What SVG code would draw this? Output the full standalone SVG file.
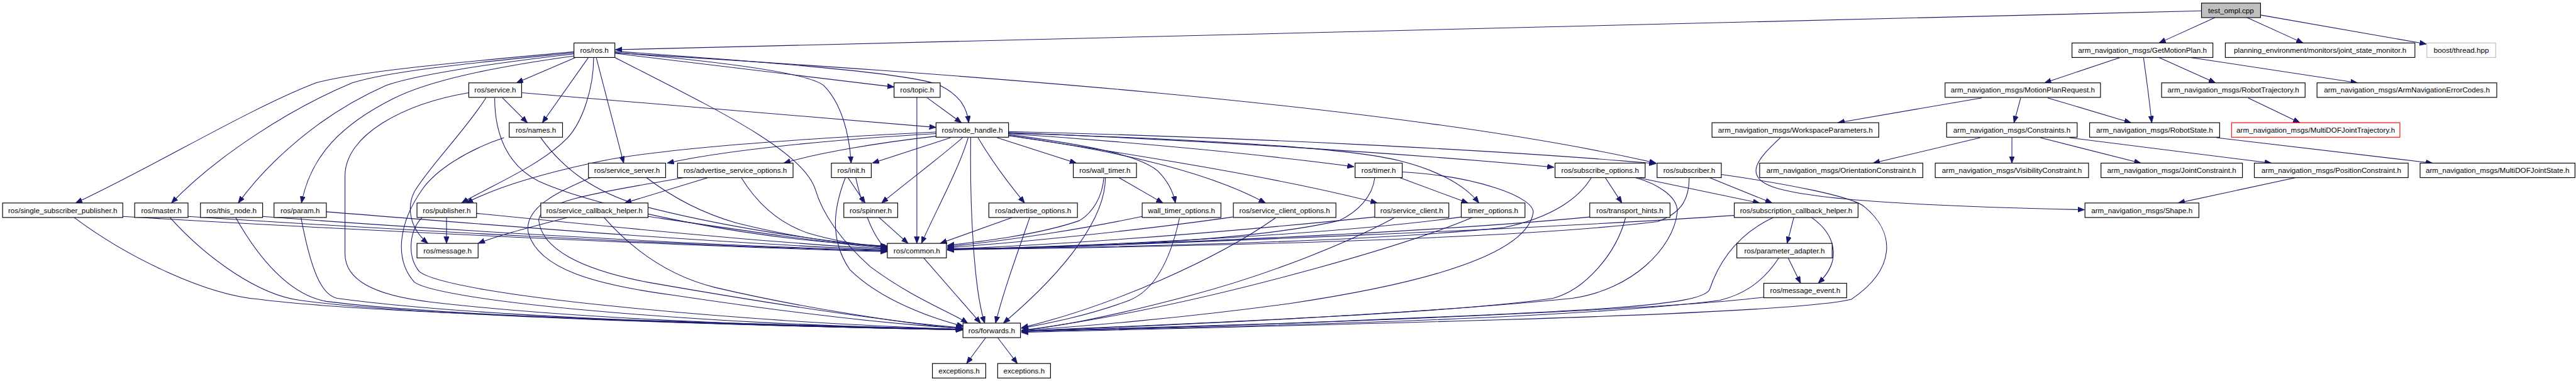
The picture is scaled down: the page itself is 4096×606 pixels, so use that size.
<svg xmlns="http://www.w3.org/2000/svg" width="4096" height="606" viewBox="0 0 4096 606">
<style>
.node rect{fill:#ffffff;stroke:#000000;stroke-width:1.4}
.node text{font-family:"Liberation Sans",Arial,sans-serif;font-size:14.2px;fill:#000000;text-anchor:middle}
#edges path{fill:none;stroke:#191970;stroke-width:1.3;marker-end:url(#arr)}
</style>
<defs>
<marker id="arr" markerUnits="userSpaceOnUse" viewBox="0 0 14 11" markerWidth="14" markerHeight="11" refX="13" refY="5" orient="auto">
<path d="M0,0 L13,5 L0,10 z" fill="#191970" stroke="#191970" stroke-width="1"/>
</marker>
</defs>
<rect x="0" y="0" width="4096" height="606" fill="#ffffff"/>
<g transform="scale(0.82365)">
<g id="edges">
<path d="M4250,21 L1188,96"/>
<path d="M4276,34 L4168,83"/>
<path d="M4338,34 L4446,83"/>
<path d="M4364,29 L4684,85"/>
<path d="M4093,111 L3947,160"/>
<path d="M4138,111 C4145,160 4150,200 4154,237"/>
<path d="M4168,111 L4277,160"/>
<path d="M4229,111 L4551,160"/>
<path d="M3826,189 L3548,237"/>
<path d="M3901,189 L3888,237"/>
<path d="M3953,189 L4114,237"/>
<path d="M4340,189 L4440,237"/>
<path d="M3823,266 L3616,315"/>
<path d="M3884,266 L3884,315"/>
<path d="M3939,266 L4133,315"/>
<path d="M3995,266 L4385,315"/>
<path d="M4279,266 L4696,315"/>
<path d="M4432,343 L4205,392"/>
<path d="M3437,266 C3395,305 3355,345 3440,366 C3520,386 3700,398 4024,405"/>
<path d="M1111,111 L997,160"/>
<path d="M1136,111 L1047,237"/>
<path d="M1146,111 C1146,170 1125,235 1095,267 C1045,318 955,355 891,392"/>
<path d="M1151,111 L1204,315"/>
<path d="M1187,111 C1380,210 1550,290 1574,366 C1590,420 1630,470 1680,515 C1760,575 1840,605 1868,624"/>
<path d="M1187,103 L1726,168"/>
<path d="M1187,99 C1450,118 1760,140 1815,165 C1855,185 1867,210 1870,237"/>
<path d="M1187,101 C1380,118 1560,140 1590,165 C1625,200 1640,260 1643,315"/>
<path d="M1187,102 C1800,140 2700,200 3197,315"/>
<path d="M1108,100 C950,115 700,135 610,160 C480,210 300,320 146,392"/>
<path d="M1108,102 C950,118 760,135 680,160 C560,210 420,300 331,392"/>
<path d="M1108,104 C950,122 800,145 745,165 C620,220 520,310 460,392"/>
<path d="M1108,108 C950,130 830,155 760,190 C660,240 600,300 582,392"/>
<path d="M970,189 L1018,237"/>
<path d="M1007,179 L1807,246"/>
<path d="M938,189 C900,250 830,320 800,370 C785,400 790,440 826,470"/>
<path d="M955,189 C955,260 980,320 1040,350 C1150,400 1450,465 1713,475"/>
<path d="M905,179 C780,200 666,260 666,340 L666,490 C666,540 720,570 830,583 C1100,615 1500,630 1858,636"/>
<path d="M1790,189 L1856,237"/>
<path d="M1770,188 L1770,470"/>
<path d="M1044,266 C1090,330 1150,370 1230,395 C1400,440 1600,468 1713,476"/>
<path d="M973,266 C900,290 840,330 815,366 C770,430 760,500 800,545 C850,580 1300,625 1858,636"/>
<path d="M1807,258 C1600,270 1400,290 1288,315"/>
<path d="M1807,263 C1700,275 1580,295 1513,315"/>
<path d="M1807,255 C1500,270 1250,290 1142,315 C1050,335 960,360 900,392"/>
<path d="M1835,266 L1684,315"/>
<path d="M1858,266 C1820,300 1740,360 1702,392"/>
<path d="M1869,266 C1850,330 1800,420 1779,470"/>
<path d="M1874,266 C1872,400 1880,560 1901,624"/>
<path d="M1888,266 C1920,320 1960,370 1978,392"/>
<path d="M1925,266 L2078,315"/>
<path d="M1947,254 C2400,265 2900,290 3197,316"/>
<path d="M1947,256 C2300,270 2700,295 3000,323"/>
<path d="M1947,258 C2200,275 2450,300 2614,322"/>
<path d="M1947,257 C2300,268 2600,285 2700,310 C2780,330 2830,360 2855,392"/>
<path d="M1947,262 C2200,300 2480,345 2659,392"/>
<path d="M1948,262 C2150,290 2330,330 2443,392"/>
<path d="M1948,260 C2100,280 2200,300 2235,330 C2255,350 2265,370 2269,392"/>
<path d="M2160,343 L2245,392"/>
<path d="M2131,343 C2128,380 2110,410 2084,426 C2000,455 1880,468 1829,474"/>
<path d="M2134,343 C2134,420 2060,520 1937,624"/>
<path d="M2702,343 L2834,392"/>
<path d="M2654,343 C2650,380 2620,410 2585,426 C2400,470 2000,480 1829,480"/>
<path d="M2707,332 C2850,340 2960,380 2960,410 C2950,480 2800,540 2490,586 C2300,612 2100,630 1972,638"/>
<path d="M3072,343 C3050,380 3000,420 2900,440 C2600,470 2100,478 1829,481"/>
<path d="M3099,343 L3131,392"/>
<path d="M3157,343 C3200,355 3240,380 3238,410 C3230,480 3150,560 3035,576 C2700,610 2200,630 1972,640"/>
<path d="M3162,343 L3397,392"/>
<path d="M3300,343 L3421,392"/>
<path d="M3261,343 C3261,380 3250,410 3200,428 C2900,465 2200,478 1829,482"/>
<path d="M3323,337 C3450,355 3580,380 3600,400 C3660,450 3660,520 3574,578 C3450,610 2500,628 1972,642"/>
<path d="M3348,416 C3000,440 2300,470 1829,483"/>
<path d="M3423,420 C3360,450 3320,500 3300,560 C3280,590 3100,600 2490,624 C2200,632 2050,637 1972,640"/>
<path d="M3463,420 L3450,470"/>
<path d="M3497,420 C3540,450 3560,500 3510,547"/>
<path d="M3452,498 L3476,547"/>
<path d="M3434,498 C3400,550 3360,570 3320,580 C3000,620 2300,632 1972,640"/>
<path d="M3405,574 C3200,600 2400,630 1972,640"/>
<path d="M2821,419 C2600,450 2200,472 1829,482"/>
<path d="M2842,420 C2700,480 2400,560 2200,600 C2100,620 2020,632 1972,638"/>
<path d="M2654,419 C2400,445 2100,470 1829,481"/>
<path d="M2691,421 C2600,470 2450,530 2300,570 C2150,610 2050,630 1972,638"/>
<path d="M3069,419 C2800,445 2300,470 1829,482"/>
<path d="M3138,421 C3120,490 3060,560 2998,576 C2800,605 2300,625 1972,639"/>
<path d="M2380,419 C2200,445 1950,470 1829,478"/>
<path d="M2462,421 C2350,500 2150,590 1972,633"/>
<path d="M2205,418 C2100,440 1950,465 1829,476"/>
<path d="M2277,421 C2260,500 2230,560 2180,580 C2100,610 2020,625 1972,634"/>
<path d="M1954,420 L1815,470"/>
<path d="M1988,420 C1960,500 1935,570 1922,624"/>
<path d="M1697,420 L1753,470"/>
<path d="M1783,498 L1893,624"/>
<path d="M1903,652 L1866,702"/>
<path d="M1926,652 L1964,702"/>
<path d="M1248,343 C1290,375 1350,410 1420,430 C1530,458 1640,472 1713,478"/>
<path d="M1140,343 C1080,370 1010,400 1020,450 C1040,520 1150,550 1300,570 C1500,600 1700,625 1858,634"/>
<path d="M1320,343 C1200,365 1040,385 1040,425 C1045,480 1120,520 1250,545 C1450,580 1700,620 1858,633"/>
<path d="M1431,343 C1460,390 1500,430 1560,450 C1620,468 1670,474 1713,477"/>
<path d="M1367,343 L1206,392"/>
<path d="M1652,343 C1665,400 1685,460 1713,482"/>
<path d="M1632,343 C1610,400 1600,460 1640,520 C1700,580 1800,615 1860,630"/>
<path d="M1637,343 L1670,392"/>
<path d="M1095,420 C1020,440 960,455 923,470"/>
<path d="M1251,418 C1400,440 1600,470 1713,480"/>
<path d="M1166,420 C1210,470 1280,530 1380,555 C1550,595 1750,625 1858,635"/>
<path d="M862,420 L862,470"/>
<path d="M920,412 C1200,440 1500,470 1713,481"/>
<path d="M815,420 C790,445 785,495 810,525 C870,570 1400,620 1858,636"/>
<path d="M237,418 C600,440 1300,475 1713,486"/>
<path d="M143,420 C250,500 400,570 500,578 C700,605 1400,625 1858,636"/>
<path d="M363,418 C700,440 1300,474 1713,485"/>
<path d="M328,420 C400,500 500,570 580,580 C800,610 1400,628 1858,637"/>
<path d="M507,418 C800,440 1300,472 1713,484"/>
<path d="M455,420 C500,500 560,570 630,582 C850,610 1400,628 1858,637"/>
<path d="M630,409 C900,430 1300,465 1713,483"/>
<path d="M581,420 C600,520 620,570 651,576 C900,610 1400,628 1858,637"/>
</g>
<g id="n_test" class="node"><rect x="4250" y="6" width="114" height="28" style="fill:#bfbfbf"/><text x="4307" y="25">test_ompl.cpp</text></g>
<g id="n_ros" class="node"><rect x="1108" y="83" width="79" height="28"/><text x="1147.5" y="102">ros/ros.h</text></g>
<g id="n_gmp" class="node"><rect x="4000" y="83" width="272" height="28"/><text x="4136" y="102">arm_navigation_msgs/GetMotionPlan.h</text></g>
<g id="n_pe" class="node"><rect x="4296" y="83" width="366" height="28"/><text x="4479" y="102">planning_environment/monitors/joint_state_monitor.h</text></g>
<g id="n_boost" class="node"><rect x="4685" y="83" width="133" height="28" style="stroke:#bfbfbf"/><text x="4751.5" y="102">boost/thread.hpp</text></g>
<g id="n_service" class="node"><rect x="905" y="160" width="102" height="28"/><text x="956" y="179">ros/service.h</text></g>
<g id="n_topic" class="node"><rect x="1726" y="160" width="89" height="28"/><text x="1770.5" y="179">ros/topic.h</text></g>
<g id="n_mpr" class="node"><rect x="3755" y="160" width="300" height="28"/><text x="3905" y="179">arm_navigation_msgs/MotionPlanRequest.h</text></g>
<g id="n_rtraj" class="node"><rect x="4173" y="160" width="277" height="28"/><text x="4311.5" y="179">arm_navigation_msgs/RobotTrajectory.h</text></g>
<g id="n_anec" class="node"><rect x="4473" y="160" width="347" height="28"/><text x="4646.5" y="179">arm_navigation_msgs/ArmNavigationErrorCodes.h</text></g>
<g id="n_names" class="node"><rect x="983" y="237" width="103" height="28"/><text x="1034.5" y="256">ros/names.h</text></g>
<g id="n_nh" class="node"><rect x="1807" y="237" width="140" height="28"/><text x="1877" y="256">ros/node_handle.h</text></g>
<g id="n_wsp" class="node"><rect x="3305" y="237" width="322" height="28"/><text x="3466" y="256">arm_navigation_msgs/WorkspaceParameters.h</text></g>
<g id="n_constr" class="node"><rect x="3758" y="237" width="252" height="28"/><text x="3884" y="256">arm_navigation_msgs/Constraints.h</text></g>
<g id="n_rstate" class="node"><rect x="4034" y="237" width="251" height="28"/><text x="4159.5" y="256">arm_navigation_msgs/RobotState.h</text></g>
<g id="n_mdjt" class="node"><rect x="4308" y="237" width="325" height="28" style="stroke:#ff0000"/><text x="4470.5" y="256">arm_navigation_msgs/MultiDOFJointTrajectory.h</text></g>
<g id="n_ssrv" class="node"><rect x="1136" y="315" width="149" height="28"/><text x="1210.5" y="334">ros/service_server.h</text></g>
<g id="n_aso" class="node"><rect x="1308" y="315" width="223" height="28"/><text x="1419.5" y="334">ros/advertise_service_options.h</text></g>
<g id="n_init" class="node"><rect x="1605" y="315" width="77" height="28"/><text x="1643.5" y="334">ros/init.h</text></g>
<g id="n_wtimer" class="node"><rect x="2072" y="315" width="122" height="28"/><text x="2133" y="334">ros/wall_timer.h</text></g>
<g id="n_timer" class="node"><rect x="2616" y="315" width="91" height="28"/><text x="2661.5" y="334">ros/timer.h</text></g>
<g id="n_subopt" class="node"><rect x="3002" y="315" width="174" height="28"/><text x="3089" y="334">ros/subscribe_options.h</text></g>
<g id="n_subscriber" class="node"><rect x="3199" y="315" width="124" height="28"/><text x="3261" y="334">ros/subscriber.h</text></g>
<g id="n_ocon" class="node"><rect x="3397" y="315" width="315" height="28"/><text x="3554.5" y="334">arm_navigation_msgs/OrientationConstraint.h</text></g>
<g id="n_vcon" class="node"><rect x="3736" y="315" width="296" height="28"/><text x="3884" y="334">arm_navigation_msgs/VisibilityConstraint.h</text></g>
<g id="n_jcon" class="node"><rect x="4056" y="315" width="273" height="28"/><text x="4192.5" y="334">arm_navigation_msgs/JointConstraint.h</text></g>
<g id="n_pcon" class="node"><rect x="4352" y="315" width="297" height="28"/><text x="4500.5" y="334">arm_navigation_msgs/PositionConstraint.h</text></g>
<g id="n_mdjs" class="node"><rect x="4672" y="315" width="299" height="28"/><text x="4821.5" y="334">arm_navigation_msgs/MultiDOFJointState.h</text></g>
<g id="n_ssp" class="node"><rect x="5" y="392" width="232" height="28"/><text x="121" y="411">ros/single_subscriber_publisher.h</text></g>
<g id="n_master" class="node"><rect x="260" y="392" width="103" height="28"/><text x="311.5" y="411">ros/master.h</text></g>
<g id="n_thisnode" class="node"><rect x="387" y="392" width="120" height="28"/><text x="447" y="411">ros/this_node.h</text></g>
<g id="n_param" class="node"><rect x="529" y="392" width="101" height="28"/><text x="579.5" y="411">ros/param.h</text></g>
<g id="n_publisher" class="node"><rect x="805" y="392" width="115" height="28"/><text x="862.5" y="411">ros/publisher.h</text></g>
<g id="n_sch" class="node"><rect x="1044" y="392" width="207" height="28"/><text x="1147.5" y="411">ros/service_callback_helper.h</text></g>
<g id="n_spinner" class="node"><rect x="1629" y="392" width="104" height="28"/><text x="1681" y="411">ros/spinner.h</text></g>
<g id="n_advopt" class="node"><rect x="1909" y="392" width="171" height="28"/><text x="1994.5" y="411">ros/advertise_options.h</text></g>
<g id="n_wto" class="node"><rect x="2205" y="392" width="152" height="28"/><text x="2281" y="411">wall_timer_options.h</text></g>
<g id="n_sco" class="node"><rect x="2381" y="392" width="198" height="28"/><text x="2480" y="411">ros/service_client_options.h</text></g>
<g id="n_sclient" class="node"><rect x="2654" y="392" width="143" height="28"/><text x="2725.5" y="411">ros/service_client.h</text></g>
<g id="n_topt" class="node"><rect x="2821" y="392" width="123" height="28"/><text x="2882.5" y="411">timer_options.h</text></g>
<g id="n_thints" class="node"><rect x="3069" y="392" width="155" height="28"/><text x="3146.5" y="411">ros/transport_hints.h</text></g>
<g id="n_subcbh" class="node"><rect x="3348" y="392" width="239" height="28"/><text x="3467.5" y="411">ros/subscription_callback_helper.h</text></g>
<g id="n_shape" class="node"><rect x="4025" y="392" width="220" height="28"/><text x="4135" y="411">arm_navigation_msgs/Shape.h</text></g>
<g id="n_message" class="node"><rect x="805" y="470" width="118" height="28"/><text x="864" y="489">ros/message.h</text></g>
<g id="n_common" class="node"><rect x="1713" y="470" width="114" height="28"/><text x="1770" y="489">ros/common.h</text></g>
<g id="n_padapter" class="node"><rect x="3353" y="470" width="184" height="28"/><text x="3445" y="489">ros/parameter_adapter.h</text></g>
<g id="n_mevent" class="node"><rect x="3405" y="547" width="160" height="28"/><text x="3485" y="566">ros/message_event.h</text></g>
<g id="n_forwards" class="node"><rect x="1859" y="624" width="111" height="28"/><text x="1914.5" y="643">ros/forwards.h</text></g>
<g id="n_exc1" class="node"><rect x="1800" y="702" width="103" height="28"/><text x="1851.5" y="721">exceptions.h</text></g>
<g id="n_exc2" class="node"><rect x="1926" y="702" width="102" height="28"/><text x="1977" y="721">exceptions.h</text></g>
</g>
</svg>
